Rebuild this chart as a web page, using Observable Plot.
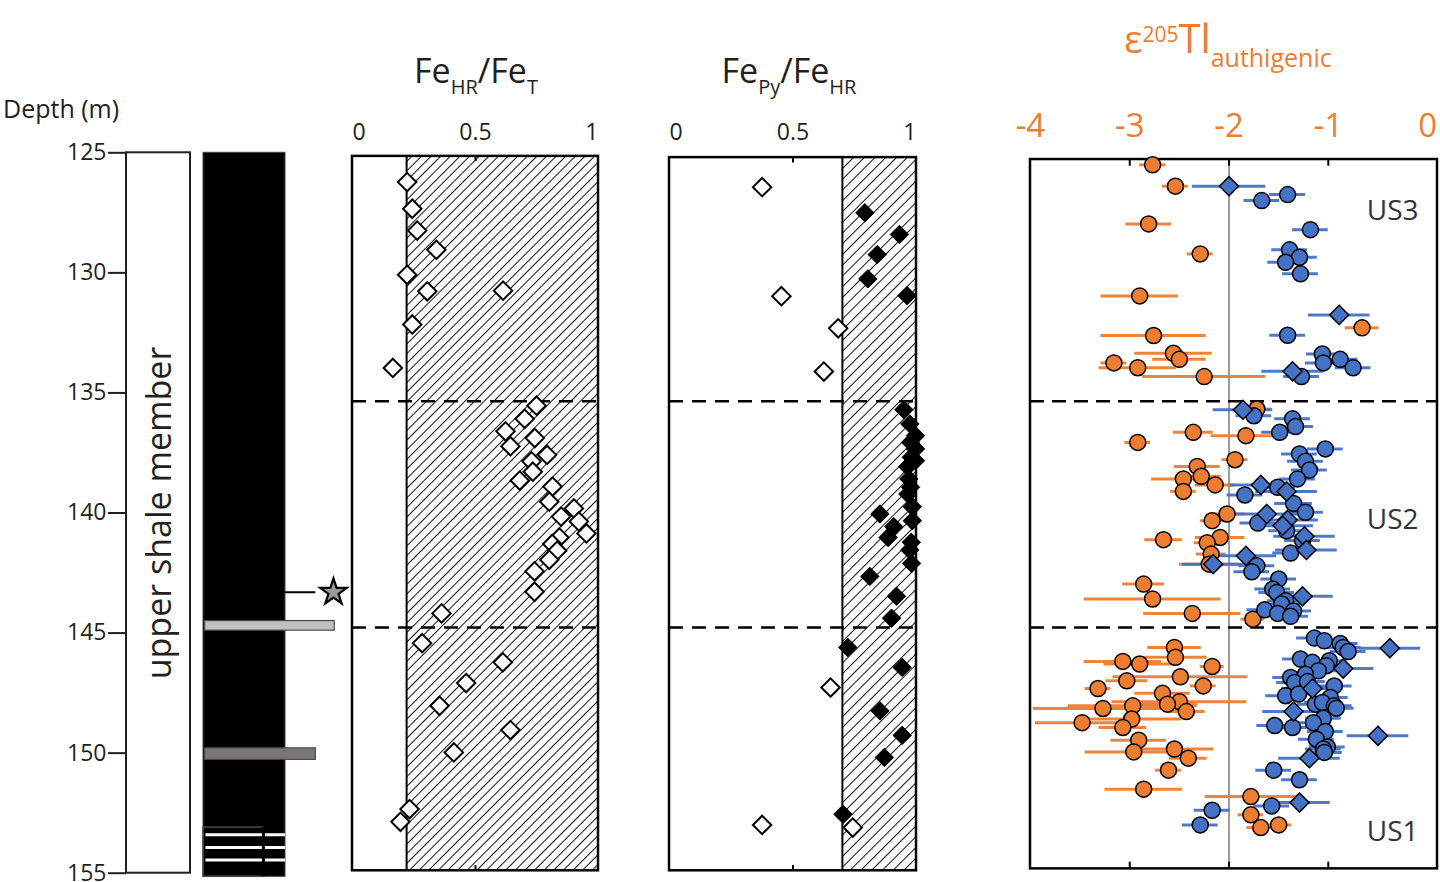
<!DOCTYPE html>
<html><head><meta charset="utf-8">
<script src="https://cdn.jsdelivr.net/npm/d3@7"></script>
<script src="https://cdn.jsdelivr.net/npm/@observablehq/plot@0.6"></script>
<style>
html,body{margin:0;padding:0;background:#fff;}
#chart{position:relative;width:1440px;height:882px;overflow:hidden;}
#chart svg{position:absolute;left:0;top:0;}
</style></head><body><div id="chart"></div>
<script>
// ---------------- DATA ----------------
const depthTicks = [125, 130, 135, 140, 145, 150, 155];
const formationName = ["upper shale member"];
const formationTop = [125];
const formationBottom = [155];

const bedType = ["black shale", "light grey bed", "dark grey bed", "laminated interval"];
const bedTop = [125, 144.5, 149.8, 153.1];
const bedBottom = [155.15, 144.9, 150.28, 155.15];
const bedWidth = [1, 1.6, 1.37, 0.73];
const laminaDepth = [153.4, 153.93, 154.45];
const markerDepth = [143.3];

const unitNames = ["US3", "US2", "US1"];
const unitLabelDepth = [127.44, 140.3, 153.3];
const unitBoundaries = [135.35, 144.77];

const feHrTicks = [0, 0.5, 1];
const feHrThreshold = [0.22];
const feHrDepth = [126.22,127.33,128.24,129.04,130.08,130.77,130.74,132.15,133.96,135.53,136.08,136.6,136.88,137.22,137.58,137.85,138.28,138.65,138.9,139.53,139.81,140.15,140.35,140.85,141.02,141.29,141.57,141.95,142.43,143.28,144.18,145.42,146.22,147.08,148.03,149.04,149.97,152.33,152.86];
const feHrValue = [0.222,0.243,0.263,0.341,0.222,0.304,0.612,0.243,0.164,0.748,0.70,0.622,0.741,0.642,0.791,0.728,0.733,0.68,0.813,0.80,0.90,0.848,0.92,0.951,0.841,0.812,0.832,0.80,0.74,0.74,0.362,0.283,0.611,0.462,0.354,0.642,0.412,0.232,0.195];

const fePyTicks = [0, 0.5, 1];
const fePyThreshold = [0.7];
const fePyEuxDepth = [127.5,128.4,129.24,130.25,130.95,135.7,136.29,136.78,137.06,137.33,137.68,137.82,138.07,138.58,138.93,139.21,139.74,140.32,140.04,140.57,141.02,141.22,141.54,142.1,142.64,143.47,144.38,145.6,146.43,148.24,149.26,150.18,152.54];
const fePyEuxValue = [0.791,0.931,0.841,0.803,0.962,0.949,0.973,0.996,0.976,0.996,0.979,0.996,0.964,0.969,0.976,0.965,0.983,0.983,0.852,0.908,0.885,0.979,0.973,0.98,0.811,0.919,0.899,0.722,0.942,0.852,0.942,0.870,0.702];
const fePyOtherDepth = [126.43,130.97,132.31,134.11,147.27,152.99,153.1];
const fePyOtherValue = [0.375,0.453,0.683,0.625,0.652,0.375,0.742];

const tlTicks = [-4, -3, -2, -1, 0];
const tlReference = [-2];
// orange circles
const tlOrangeDepth = [125.5,126.39,127.96,129.21,130.96,132.29,132.61,133.35,133.6,133.75,133.95,134.32,
  135.67,136.64,137.06,136.78,137.78,138.06,138.58,138.47,138.83,139.1,140.04,140.32,141.11,141.02,141.24,141.71,142.13,142.96,143.58,144.18,144.42,
  145.6,146.01,146.18,146.29,146.39,146.99,146.82,147.31,147.2,147.51,147.86,147.96,148.14,148.03,148.27,148.58,148.73,148.93,149.46,149.95,149.83,150.21,150.71,151.5,151.81,152.57,153.1,152.99];
const tlOrangeValue = [-2.77,-2.54,-2.81,-2.29,-2.90,-0.66,-2.76,-2.56,-2.50,-3.16,-2.92,-2.25,
  -1.72,-2.36,-2.92,-1.83,-1.94,-2.32,-2.46,-2.28,-2.14,-2.46,-2.02,-2.17,-2.66,-2.09,-2.22,-2.18,-2.20,-2.86,-2.77,-2.37,-1.76,
  -2.55,-2.54,-3.07,-2.90,-2.17,-3.03,-2.49,-3.32,-2.26,-2.67,-2.50,-2.62,-3.27,-2.97,-2.43,-2.98,-3.48,-3.07,-2.91,-2.96,-2.55,-2.41,-2.61,-2.86,-1.78,-1.78,-1.68,-1.50];
const tlOrangeErr = [0.13,0.13,0.23,0.13,0.39,0.17,0.53,0.39,0.27,0.13,0.39,0.62,
  0.15,0.2,0.13,0.35,0.13,0.23,0.32,0.2,0.2,0.13,0.18,0.12,0.19,0.25,0.13,0.15,0.3,0.21,0.69,0.49,0.12,
  0.27,0.32,0.39,0.36,0.12,0.21,0.68,0.13,0.13,0.28,0.68,0.3,0.7,0.65,0.19,0.5,0.47,0.24,0.28,0.49,0.4,0.19,0.13,0.39,0.46,0.13,0.14,0.13];
// blue circles
const tlBlueDepth = [126.74,126.99,128.2,129.04,129.35,129.56,130.04,132.6,133.38,133.6,133.75,133.95,134.32,
  135.95,136.08,136.4,136.64,137.33,137.54,137.85,138.21,138.58,138.93,139.25,139.6,139.97,140.42,140.74,141.15,141.67,142.2,142.45,142.75,143.17,143.31,143.65,143.79,144.03,144.08,144.18,144.3,
  145.21,145.32,145.43,145.6,145.77,146.08,146.22,146.15,146.36,146.57,146.85,146.71,147.06,147.02,147.2,147.61,147.54,147.68,147.96,147.89,148.03,148.13,148.55,148.85,148.93,148.73,149.1,149.42,149.74,149.83,149.97,150.71,151.11,152.2,152.38,152.99];
const tlBlueValue = [-1.41,-1.67,-1.18,-1.39,-1.29,-1.43,-1.28,-1.41,-1.06,-0.88,-1.05,-0.75,-1.27,
  -1.75,-1.36,-1.33,-1.49,-1.03,-1.29,-1.23,-1.19,-1.31,-1.51,-1.84,-1.35,-1.23,-1.71,-1.42,-1.26,-1.38,-1.72,-1.77,-1.50,-1.56,-1.52,-1.43,-1.47,-1.64,-1.35,-1.51,-1.38,
  -1.14,-1.04,-0.88,-0.85,-0.80,-1.28,-1.16,-0.99,-1.02,-1.10,-1.38,-1.23,-1.34,-1.21,-0.94,-1.43,-1.30,-0.98,-1.13,-1.06,-0.94,-0.92,-1.05,-1.54,-1.36,-1.15,-1.03,-1.12,-1.01,-1.05,-1.04,-1.55,-1.29,-1.57,-2.17,-2.29];
const tlBlueErr = [0.18,0.18,0.18,0.18,0.18,0.18,0.18,0.18,0.16,0.18,0.18,0.18,0.18,
  0.18,0.18,0.18,0.18,0.18,0.18,0.18,0.18,0.18,0.18,0.18,0.19,0.18,0.18,0.18,0.18,0.18,0.18,0.18,0.18,0.18,0.18,0.18,0.18,0.18,0.18,0.18,0.18,
  0.18,0.18,0.18,0.18,0.18,0.18,0.18,0.18,0.18,0.18,0.18,0.18,0.18,0.18,0.18,0.2,0.18,0.18,0.18,0.18,0.18,0.18,0.18,0.18,0.18,0.18,0.18,0.18,0.18,0.18,0.18,0.18,0.18,0.18,0.18,0.18];
// blue diamonds
const tlDiamondDepth = [126.39,131.75,134.1,135.7,138.83,139.1,140.04,140.29,140.53,140.97,141.54,141.78,142.13,143.47,145.63,146.48,147.31,148.27,149.28,150.21,152.06];
const tlDiamondValue = [-2.0,-0.89,-1.36,-1.86,-1.68,-1.42,-1.62,-1.41,-1.46,-1.24,-1.22,-1.83,-2.16,-1.26,-0.38,-0.85,-1.16,-1.35,-0.50,-1.19,-1.29];
const tlDiamondErr = [0.37,0.31,0.31,0.3,0.31,0.31,0.31,0.31,0.31,0.31,0.31,0.31,0.31,0.31,0.31,0.31,0.31,0.31,0.31,0.31,0.31];

// ---------------- LAYOUT / STYLE ----------------
const W = 1440, H = 882;
const FONT = '"Open Sans", sans-serif';
const INK = "#231f20";
const ORANGE = "#ED7D31", BLUE = "#4472C4";
const bedFill = {"black shale": "#000", "light grey bed": "#bfc1c3", "dark grey bed": "#7b7675", "laminated interval": "#000"};
const chart = document.getElementById("chart");

function panel(xDomain, left, right, marks) {
  return Plot.plot({
    width: W, height: H, marginTop: 152.3, marginBottom: 9.3,
    marginLeft: left, marginRight: W - right,
    x: {domain: xDomain, axis: null},
    y: {domain: [125, 155], reverse: true, axis: null},
    style: {background: "transparent", fontFamily: FONT, overflow: "visible"},
    marks
  });
}
const hatchDefs = (id, step) => () => {
  const defs = d3.create("svg:defs");
  const p = defs.append("pattern").attr("id", id).attr("patternUnits", "userSpaceOnUse")
    .attr("width", step).attr("height", step).attr("patternTransform", "rotate(45)");
  p.append("line").attr("x1", 0.5).attr("y1", 0).attr("x2", 0.5).attr("y2", step)
    .attr("stroke", "#111").attr("stroke-width", 1);
  return defs.node();
};
const zip = (ds, vs, es) => ds.map((d, i) => ({depth: d, value: vs[i], err: es ? es[i] : 0}));

// ---- formation column + depth axis ----
const formation = formationName.map((n, i) => ({name: n, top: formationTop[i], bottom: formationBottom[i]}));
chart.appendChild(panel([0, 1], 126, 190, [
  Plot.rect(formation, {x1: 0, x2: 1, y1: "top", y2: "bottom", fill: "white", stroke: INK, strokeWidth: 2}),
  Plot.text(formation, {x: 0.5, y: d => (d.top + d.bottom) / 2, text: "name", rotate: -90, fontSize: 34, fill: INK, dx: 2}),
  Plot.axisY({ticks: depthTicks, tickSize: 18, tickPadding: 2, fontSize: 23, stroke: INK, strokeWidth: 2, fill: INK, tickFormat: d => String(d), label: null})
]));

// ---- lithology column ----
const beds = bedType.map((t, i) => ({type: t, top: bedTop[i], bottom: bedBottom[i], width: bedWidth[i]}));
chart.appendChild(panel([0, 1], 203, 285, [
  Plot.rect(beds.filter(b => b.type === "black shale"), {x1: 0, x2: "width", y1: "top", y2: "bottom", fill: d => bedFill[d.type], stroke: "#444", strokeWidth: 1}),
  Plot.rect(beds.filter(b => b.type === "light grey bed" || b.type === "dark grey bed"), {x1: 0.02, x2: "width", y1: "top", y2: "bottom", fill: d => bedFill[d.type], stroke: "#4a4a4a", strokeWidth: 1.2}),
  Plot.ruleY(laminaDepth, {x1: 0.03, x2: 1, stroke: "white", strokeWidth: 3}),
  Plot.rect(beds.filter(b => b.type === "laminated interval"), {x1: 0, x2: "width", y1: "top", y2: "bottom", fill: "none", stroke: "#4a4a4a", strokeWidth: 1.5}),
  Plot.ruleX(beds.filter(b => b.type === "laminated interval"), {x: "width", y1: "top", y2: "bottom", stroke: "#000", strokeWidth: 3}),
  Plot.ruleY(markerDepth, {x1: 1, x2: 1.37, stroke: "#000", strokeWidth: 2}),
  Plot.dot(markerDepth, {x: 1.585, y: d => d, symbol: "star", r: 8.3, fill: "#9a9a9a", stroke: "#000", strokeWidth: 2.2})
]));

// ---- generic helpers for data panels ----
function tickLabelMarks(ticks, dy, fontSize, fill, edgeAnchors) {
  const lo = ticks[0], hi = ticks[ticks.length - 1];
  const common = {x: d => d, text: d => String(d), frameAnchor: "top", lineAnchor: "bottom", dy, fontSize, fill};
  if (!edgeAnchors) return [Plot.text(ticks, {...common, textAnchor: "middle"})];
  return [
    Plot.text(ticks.filter(t => t === lo), {...common, textAnchor: "start"}),
    Plot.text(ticks.filter(t => t !== lo && t !== hi), {...common, textAnchor: "middle"}),
    Plot.text(ticks.filter(t => t === hi), {...common, textAnchor: "end"})
  ];
}
function innerTicks(ticks, top, bottom, len) {
  const inner = ticks.slice(1, -1);
  return [
    Plot.ruleX(inner, {y1: top, y2: top + len, stroke: "#000", strokeWidth: 2}),
    Plot.ruleX(inner, {y1: bottom - len, y2: bottom, stroke: "#000", strokeWidth: 2})
  ];
}

// ---- FeHR/FeT ----
{
  const top = 125.15, bottom = 154.9;
  chart.appendChild(panel([0, 1], 352, 598, [
    hatchDefs("hatchA", 6.8),
    Plot.rect(feHrThreshold, {x1: d => d, x2: 1, y1: top, y2: bottom, fill: "url(#hatchA)"}),
    Plot.ruleX(feHrThreshold, {y1: top, y2: bottom, stroke: "#000", strokeWidth: 2}),
    Plot.ruleY(unitBoundaries, {x1: 0, x2: 1, stroke: "#000", strokeWidth: 2.5, strokeDasharray: "14,9"}),
    Plot.rect([0], {x1: 0, x2: 1, y1: top, y2: bottom, fill: "none", stroke: "#000", strokeWidth: 2.5}),
    ...innerTicks(feHrTicks, top, bottom, 0.22),
    ...tickLabelMarks(feHrTicks, -13.3, 23, INK, true),
    Plot.dot(zip(feHrDepth, feHrValue), {x: "value", y: "depth", symbol: "diamond2", r: 8.3, fill: "white", stroke: "#000", strokeWidth: 2})
  ]));
}

// ---- FePy/FeHR ----
{
  const top = 125.2, bottom = 154.9;
  chart.appendChild(panel([0, 1], 669, 916, [
    hatchDefs("hatchB", 7.6),
    Plot.rect(fePyThreshold, {x1: d => d, x2: 1, y1: top, y2: bottom, fill: "url(#hatchB)"}),
    Plot.ruleX(fePyThreshold, {y1: top, y2: bottom, stroke: "#000", strokeWidth: 2}),
    Plot.ruleY(unitBoundaries, {x1: 0, x2: 1, stroke: "#000", strokeWidth: 2.5, strokeDasharray: "14,9"}),
    Plot.rect([0], {x1: 0, x2: 1, y1: top, y2: bottom, fill: "none", stroke: "#000", strokeWidth: 2.5}),
    ...innerTicks(fePyTicks, top, bottom, 0.22),
    ...tickLabelMarks(fePyTicks, -13.3, 23, INK, true),
    Plot.dot(zip(fePyOtherDepth, fePyOtherValue), {x: "value", y: "depth", symbol: "diamond2", r: 8.3, fill: "white", stroke: "#000", strokeWidth: 2}),
    Plot.dot(zip(fePyEuxDepth, fePyEuxValue), {x: "value", y: "depth", symbol: "diamond2", r: 8.3, fill: "#000", stroke: "#000", strokeWidth: 1})
  ]));
}

// ---- ε205Tl authigenic ----
{
  const top = 125.28, bottom = 154.82;
  const orange = zip(tlOrangeDepth, tlOrangeValue, tlOrangeErr);
  const blue = zip(tlBlueDepth, tlBlueValue, tlBlueErr);
  const dia = zip(tlDiamondDepth, tlDiamondValue, tlDiamondErr);
  const units = unitNames.map((n, i) => ({name: n, depth: unitLabelDepth[i]}));
  const bar = (data, color) => Plot.ruleY(data, {y: "depth", x1: d => d.value - d.err, x2: d => d.value + d.err, stroke: color, strokeWidth: 3, strokeOpacity: 0.95});
  chart.appendChild(panel([-4, 0.1], 1030, 1437, [
    Plot.ruleX(tlReference, {y1: top, y2: bottom, stroke: "#9b9b9b", strokeWidth: 2}),
    Plot.ruleY(unitBoundaries, {x1: -4, x2: 0.1, stroke: "#000", strokeWidth: 2.5, strokeDasharray: "14,8"}),
    Plot.rect([0], {x1: -4, x2: 0.1, y1: top, y2: bottom, fill: "none", stroke: "#000", strokeWidth: 2.5}),
    ...innerTicks(tlTicks, top, bottom, 0.28),
    ...tickLabelMarks(tlTicks, -16, 33, ORANGE, false),
    Plot.text(units, {x: 0.1, y: "depth", text: "name", textAnchor: "end", dx: -19, fontSize: 28, fill: "#333"}),
    bar(orange, ORANGE),
    bar(blue, BLUE),
    bar(dia, BLUE),
    Plot.dot(orange, {x: "value", y: "depth", r: 8, fill: ORANGE, stroke: "#000", strokeWidth: 1.5}),
    Plot.dot(blue, {x: "value", y: "depth", r: 8, fill: BLUE, stroke: "#000", strokeWidth: 1.5}),
    Plot.dot(dia, {x: "value", y: "depth", symbol: "diamond2", r: 8.6, fill: BLUE, stroke: "#000", strokeWidth: 1.5})
  ]));
}

// ---- titles overlay ----
{
  const svg = d3.create("svg").attr("width", W).attr("height", H).style("font-family", FONT);
  svg.append("text").attr("x", 3).attr("y", 118).attr("font-size", 25).attr("fill", INK).text("Depth (m)");
  function title(x, y, parts, color) {
    const t = svg.append("text").attr("x", x).attr("y", y).attr("text-anchor", "middle").attr("fill", color);
    let shift = 0;
    for (const [s, size, off] of parts) {
      t.append("tspan").attr("font-size", size).attr("dy", off - shift).text(s);
      shift = off;
    }
  }
  title(476, 83, [["Fe", 34, 0], ["HR", 20, 11], ["/Fe", 34, 0], ["T", 20, 11]], INK);
  title(789, 83, [["Fe", 34, 0], ["Py", 20, 11], ["/Fe", 34, 0], ["HR", 20, 11]], INK);
  title(1228, 53, [["ε", 38, 0], ["205", 21, -11], ["Tl", 40, 0], ["authigenic", 25, 14]], ORANGE);
  chart.appendChild(svg.node());
}
</script></body></html>
